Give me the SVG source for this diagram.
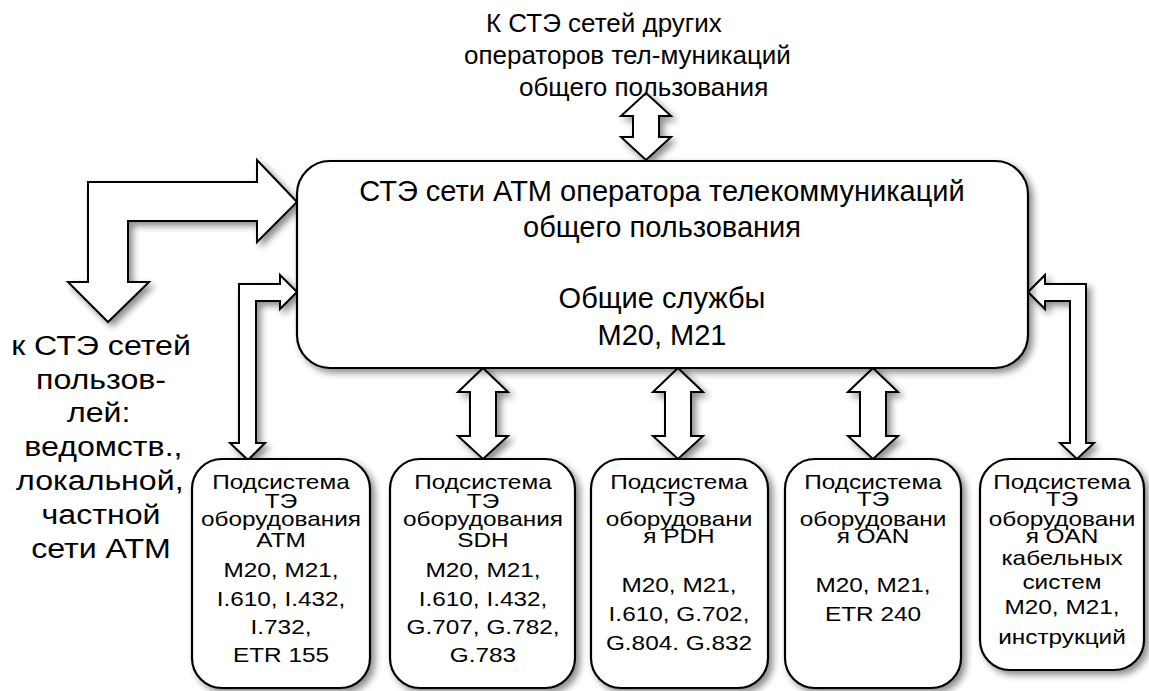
<svg xmlns="http://www.w3.org/2000/svg" width="1149" height="691" viewBox="0 0 1149 691">
  <defs>
    <filter id="sh" x="-20%" y="-20%" width="140%" height="140%">
      <feDropShadow dx="4" dy="4" stdDeviation="3.5" flood-color="#000" flood-opacity="0.45"/>
    </filter>
    <style>
      .box { fill: #fff; stroke: #000; stroke-width: 2.2; filter: url(#sh); }
      .arr { fill: #fff; stroke: #000; stroke-width: 2; stroke-linejoin: miter; filter: url(#sh); }
      text { font-family: "Liberation Sans", Arial, sans-serif; fill: #000; text-anchor: middle; }
      .main { font-size: 29px; }
      .top { font-size: 26px; text-anchor: start; }
      .left { font-size: 27px; }
      .sub { font-size: 21px; }
    </style>
  </defs>
  <rect width="1149" height="691" fill="#fff"/>

  <g id="connectors">
    <polygon class="arr" points="646,93 671,116 659,116 659,137 671,137 646,160 621,137 633,137 633,116 621,116"/>
    <polygon class="arr" points="297,202 257,160 257,182 88,182 88,282 68,282 108,322 149,282 128,282 128,221 257,221 257,242"/>
    <polygon class="arr" points="297,292 280,275 280,284 239,284 239,443 230,443 248,460 265,443 256,443 256,301 280,301 280,309"/>
    <polygon class="arr" points="1028,292 1045,275 1045,284 1086,284 1086,443 1094,443 1077,459 1060,443 1070,443 1070,301 1045,301 1045,309"/>
    <polygon class="arr" points="483,368 508,392 496,392 496,436 508,436 483,459 458,436 470,436 470,392 458,392"/>
    <polygon class="arr" points="678,368 703,392 691,392 691,436 703,436 678,459 653,436 665,436 665,392 653,392"/>
    <polygon class="arr" points="873,368 898,392 886,392 886,436 898,436 873,459 848,436 860,436 860,392 848,392"/>
  </g>

  <g id="top-label">
    <text class="top" x="486" y="32">К СТЭ сетей других</text>
    <text class="top" x="464" y="64">операторов тел-муникаций</text>
    <text class="top" x="519" y="96">общего пользования</text>
  </g>

  <g id="left-label" transform="matrix(1.19,0,0,1,101,0)">
    <text class="left" x="0" y="355">к СТЭ сетей</text>
    <text class="left" x="0" y="389">пользов-</text>
    <text class="left" x="-2" y="422">лей:</text>
    <text class="left" x="2" y="456">ведомств.,</text>
    <text class="left" x="-1" y="490">локальной,</text>
    <text class="left" x="0" y="524">частной</text>
    <text class="left" x="0" y="558">сети АТМ</text>
  </g>

  <g id="main-node">
    <rect class="box" x="297" y="161" width="731" height="207" rx="33" ry="33"/>
    <text class="main" x="662" y="201">СТЭ сети АТМ оператора телекоммуникаций</text>
    <text class="main" x="662" y="237">общего пользования</text>
    <text class="main" x="662" y="308">Общие службы</text>
    <text class="main" x="662" y="345">M20, M21</text>
  </g>

  <g id="sub-atm">
    <rect class="box" x="192" y="459" width="178" height="229" rx="30" ry="30"/>
    <g transform="matrix(1.16,0,0,1,281,0)">
      <text class="sub" x="0" y="489">Подсистема</text>
      <text class="sub" x="0" y="508">ТЭ</text>
      <text class="sub" x="0" y="526">оборудования</text>
      <text class="sub" x="0" y="547">ATM</text>
      <text class="sub" x="0" y="577">M20, M21,</text>
      <text class="sub" x="0" y="606">I.610, I.432,</text>
      <text class="sub" x="0" y="634">I.732,</text>
      <text class="sub" x="0" y="662">ETR 155</text>
    </g>
  </g>

  <g id="sub-sdh">
    <rect class="box" x="390" y="459" width="185" height="229" rx="30" ry="30"/>
    <g transform="matrix(1.16,0,0,1,483,0)">
      <text class="sub" x="0" y="489">Подсистема</text>
      <text class="sub" x="0" y="508">ТЭ</text>
      <text class="sub" x="0" y="526">оборудования</text>
      <text class="sub" x="0" y="547">SDH</text>
      <text class="sub" x="0" y="577">M20, M21,</text>
      <text class="sub" x="0" y="606">I.610, I.432,</text>
      <text class="sub" x="0" y="634">G.707, G.782,</text>
      <text class="sub" x="0" y="662">G.783</text>
    </g>
  </g>

  <g id="sub-pdh">
    <rect class="box" x="591" y="459" width="177" height="229" rx="30" ry="30"/>
    <g transform="matrix(1.16,0,0,1,679,0)">
      <text class="sub" x="0" y="489">Подсистема</text>
      <text class="sub" x="0" y="506">ТЭ</text>
      <text class="sub" x="0" y="526">оборудовани</text>
      <text class="sub" x="0" y="543">я PDH</text>
      <text class="sub" x="0" y="592">M20, M21,</text>
      <text class="sub" x="0" y="621">I.610, G.702,</text>
      <text class="sub" x="0" y="650">G.804. G.832</text>
    </g>
  </g>

  <g id="sub-oan">
    <rect class="box" x="785" y="459" width="176" height="229" rx="30" ry="30"/>
    <g transform="matrix(1.16,0,0,1,873,0)">
      <text class="sub" x="0" y="489">Подсистема</text>
      <text class="sub" x="0" y="506">ТЭ</text>
      <text class="sub" x="0" y="526">оборудовани</text>
      <text class="sub" x="0" y="543">я OAN</text>
      <text class="sub" x="0" y="592">M20, M21,</text>
      <text class="sub" x="0" y="621">ETR 240</text>
    </g>
  </g>

  <g id="sub-oan-cable">
    <rect class="box" x="980" y="459" width="164" height="211" rx="30" ry="30"/>
    <g transform="matrix(1.16,0,0,1,1062,0)">
      <text class="sub" x="0" y="489">Подсистема</text>
      <text class="sub" x="0" y="506">ТЭ</text>
      <text class="sub" x="0" y="526">оборудовани</text>
      <text class="sub" x="0" y="543">я OAN</text>
      <text class="sub" x="0" y="565">кабельных</text>
      <text class="sub" x="0" y="589">систем</text>
      <text class="sub" x="0" y="614">M20, M21,</text>
      <text class="sub" x="0" y="644">инструкций</text>
    </g>
  </g>
</svg>
